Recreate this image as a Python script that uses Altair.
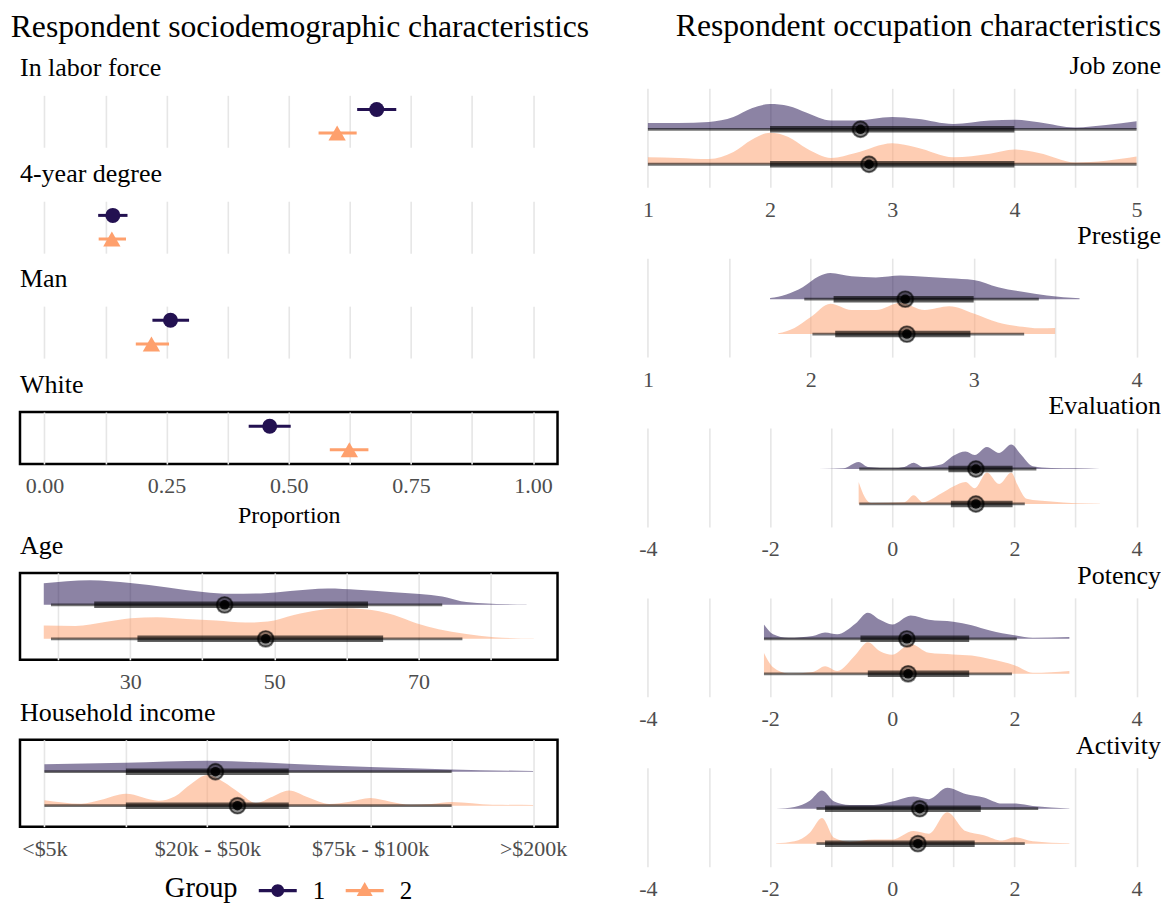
import altair as alt
import pandas as pd

FONT = "Liberation Serif"
PURPLE = "#231151"
ORANGE = "#FEA06D"
GRID_COLOR = "#E6E6E6"
TICK_COLOR = "#4D4D4D"
PANEL_W = 538

groups = ["1", "2"]
group_colors = [PURPLE, ORANGE]

# ---------------- Proportions (left, point + interval) ----------------
prop_labels = ["In labor force", "4-year degree", "Man", "White"]
prop_est_g1 = [0.680, 0.140, 0.258, 0.461]
prop_lo_g1 = [0.640, 0.110, 0.221, 0.418]
prop_hi_g1 = [0.720, 0.170, 0.296, 0.504]
prop_est_g2 = [0.599, 0.138, 0.219, 0.624]
prop_lo_g2 = [0.561, 0.111, 0.187, 0.584]
prop_hi_g2 = [0.639, 0.167, 0.255, 0.663]
prop_ticks = [0.0, 0.125, 0.25, 0.375, 0.5, 0.625, 0.75, 0.875, 1.0]

# ---------------- Age ----------------
age_x1 = [18, 24.4, 30, 35.2, 40.1, 44, 48.1, 52.2, 57.4, 61.5, 66.1, 70.2, 73.3, 75.9, 78.9, 85]
age_d1 = [21.7, 24.8, 22, 17.5, 13, 11.2, 11.5, 14, 16.5, 15.3, 13, 11, 8.3, 3.7, 1.7, 0.3]
age_x2 = [18, 22.4, 26.5, 30.1, 33.7, 37.8, 41.9, 46, 49.1, 52.7, 56.3, 59.4, 62.5, 66.6, 69.7, 72.8, 76.4, 80.5, 86]
age_d2 = [13.5, 13, 17, 20.7, 21.7, 20, 18.3, 16.3, 17.3, 24, 29, 30.7, 29.7, 24, 15.7, 9.7, 5, 1.7, 0.3]
age_stats_g1 = [43.1, 25.0, 63.0, 19.0, 73.3]   # median, lo66, hi66, lo95, hi95
age_stats_g2 = [48.8, 31.0, 65.1, 19.0, 76.1]
age_ticks = [20, 30, 40, 50, 60, 70, 80]

# ---------------- Household income ----------------
income_levels = ["<$5k", "$5k - $20k", "$20k - $50k", "$50k - $75k", "$75k - $100k", "$100k - $200k", ">$200k"]
income_shown = [True, False, True, False, True, False, True]
inc_x1 = [1, 2, 3, 3.65, 4, 5, 6, 7]
inc_d1 = [7.5, 9, 11, 9.5, 8, 4.7, 2.3, 0.7]
inc_x2 = [1, 1.45, 1.7, 2, 2.4, 2.6, 2.8, 3, 3.2, 3.4, 3.6, 3.8, 4, 4.25, 4.5, 4.75, 5, 5.25, 5.5, 5.75, 6, 6.5, 7]
inc_d2 = [5.5, 2, 6, 12, 5, 9.3, 22, 31, 24, 12.7, 2.7, 9, 15.3, 8, 1.7, 4, 7.7, 4, 1, 1.8, 3.7, 1, 0.7]
inc_stats_g1 = [3.10, 2, 4, 1, 6]
inc_stats_g2 = [3.37, 2, 4, 1, 6]

# ---------------- Job zone ----------------
job_x = [1.0, 1.25, 1.5, 1.7, 1.85, 2.0, 2.15, 2.3, 2.5, 2.7, 3.0, 3.2, 3.5, 3.8, 4.0, 4.2, 4.5, 4.75, 5.0]
job_d1 = [6, 6, 7, 11.7, 20, 24, 22.3, 15.7, 8.3, 8.3, 11.7, 10, 5, 8.3, 9, 6.7, 1.7, 4, 7.7]
job_d2 = [6.7, 6, 5, 11.7, 23.3, 30, 26, 15, 6, 10.7, 20, 16, 6.7, 10, 14, 10.7, 1.7, 3.3, 7.3]
job_stats_g1 = [2.74, 2, 4, 1, 5]
job_stats_g2 = [2.81, 2, 4, 1, 5]
job_ticks = [1, 1.5, 2, 2.5, 3, 3.5, 4, 4.5, 5]

# ---------------- Prestige ----------------
pre_x1 = [1.75, 1.85, 1.95, 2.05, 2.12, 2.25, 2.4, 2.55, 2.7, 2.85, 3.0, 3.15, 3.3, 3.45, 3.65]
pre_d1 = [1, 4.3, 11, 21, 24, 21, 20, 21.7, 20.7, 19.3, 17.7, 11, 6.7, 3.3, 0.7]
pre_x2 = [1.8, 1.9, 2.0, 2.12, 2.25, 2.4, 2.55, 2.7, 2.85, 3.0, 3.15, 3.3, 3.4, 3.5]
pre_d2 = [0.7, 5.7, 15.7, 28, 22.3, 22.3, 29, 22.3, 25.7, 19, 10.7, 6.7, 5.3, 5.7]
pre_stats_g1 = [2.58, 2.14, 3.0, 1.96, 3.4]
pre_stats_g2 = [2.59, 2.15, 2.98, 2.01, 3.31]
pre_ticks = [1, 1.5, 2, 2.5, 3, 3.5, 4]

# ---------------- Evaluation ----------------
eva_x1 = [-1.2, -0.8, -0.55, -0.4, 0.0, 0.2, 0.35, 0.5, 0.8, 1.0, 1.2, 1.35, 1.55, 1.75, 1.95, 2.1, 2.3, 2.6, 3.0, 3.4]
eva_d1 = [0, 0.7, 6.7, 2, 0.7, 2, 6, 2, 4.3, 12.7, 16.7, 13.3, 21, 15.3, 23.3, 14.3, 2.7, 1, 0.7, 0]
eva_x2 = [-0.55, -0.45, -0.35, 0.2, 0.35, 0.5, 0.8, 1.0, 1.2, 1.35, 1.55, 1.75, 1.95, 2.05, 2.2, 2.6, 3.0, 3.4]
eva_d2 = [21, 6.7, 1, 1.7, 8.3, 1.7, 10, 16.7, 21, 15, 30, 19, 30, 18.3, 5, 2.3, 0.7, 0.3]
eva_stats_g1 = [1.37, 0.92, 1.97, -0.54, 2.36]
eva_stats_g2 = [1.37, 0.96, 1.97, -0.54, 2.17]

# ---------------- Potency ----------------
pot_x = [-2.1, -1.95, -1.7, -1.3, -1.1, -0.9, -0.6, -0.4, -0.2, 0.0, 0.3, 0.6, 1.0, 1.3, 1.6, 2.0, 2.3, 2.9]
pot_d1 = [13.3, 4.3, 1, 2.7, 6, 4.3, 14.3, 24.3, 17.7, 13.3, 21.7, 17.7, 16, 12.7, 7.7, 3.3, 1, 1.7]
pot_d2 = [19.3, 6, 0.3, 1.7, 7, 2.7, 17.7, 29.3, 21, 17.7, 27.7, 19.5, 18, 17, 13.7, 8, 1, 2.7]
pot_stats_g1 = [0.24, -0.52, 1.26, -2.1, 2.04]
pot_stats_g2 = [0.26, -0.40, 1.26, -2.1, 1.96]

# ---------------- Activity ----------------
act_x = [-1.9, -1.6, -1.35, -1.15, -0.95, -0.7, -0.3, 0.0, 0.35, 0.6, 0.9, 1.2, 1.5, 1.8, 2.0, 2.3, 2.9]
act_d1 = [0, 1.7, 7.7, 17.7, 7, 3.7, 3.7, 7, 12, 9.3, 20.3, 14.3, 11, 5, 5, 2.7, 0.3]
act_d2 = [0.3, 2.3, 10.7, 25, 5.7, 1.7, 4, 4, 12.3, 9.7, 30.7, 12.3, 8.3, 3, 6.3, 2.3, 0.3]
act_stats_g1 = [0.45, -1.10, 1.45, -1.24, 2.39]
act_stats_g2 = [0.42, -1.10, 1.35, -1.24, 2.17]
epa_ticks = [-4, -3, -2, -1, 0, 1, 2, 3, 4]

# ---------------------------------------------------------------
LEG_CIRCLE = "M-1,-0.08L1,-0.08L1,0.08L-1,0.08Z M0.34,0A0.34,0.34,0,1,1,-0.34,0A0.34,0.34,0,1,1,0.34,0Z"
LEG_TRI = "M-1,-0.08L1,-0.08L1,0.08L-1,0.08Z M0,-0.45L0.42,0.28L-0.42,0.28Z"

LBL_INT = "datum.value % 1 == 0 ? format(datum.value, 'd') : ''"
LBL_EPA = "datum.value % 2 == 0 ? (datum.value < 0 ? '-' : '') + format(abs(datum.value), 'd') : ''"
LBL_PROP = "datum.value % 0.25 == 0 ? format(datum.value, '.2f') : ''"
LBL_AGE = "datum.value % 20 == 10 ? format(datum.value, 'd') : ''"
LBL_INC = "[" + ", ".join("'" + (n if s else "") + "'" for n, s in zip(income_levels, income_shown)) + "][datum.value - 1]"


def x_axis(values, label_expr, labels=True, title=None):
    kw = dict(values=values, labelExpr=label_expr, labels=labels, grid=True,
              gridColor=GRID_COLOR, gridWidth=1.6, ticks=False, tickSize=0, domain=False,
              labelFont=FONT, labelFontSize=22, labelColor=TICK_COLOR, labelPadding=12,
              labelFlush=False, labelOverlap=False)
    if title is not None:
        kw.update(title=title, titleFont=FONT, titleFontSize=24, titleFontWeight="normal",
                  titleColor="black", titlePadding=7)
    else:
        kw.update(title=None)
    return alt.Axis(**kw)


def panel_title(text, anchor, offset):
    return alt.TitleParams(text=text, anchor=anchor, frame="group", font=FONT, fontSize=26,
                           fontWeight="normal", color="black", offset=offset)


BORDER = alt.ViewBackground(stroke="black", strokeWidth=2.5)


def prop_panel(i, show_axis, legend=False):
    df = pd.DataFrame({
        "grp": groups,
        "pos": [2, 1],
        "est": [prop_est_g1[i], prop_est_g2[i]],
        "lo": [prop_lo_g1[i], prop_lo_g2[i]],
        "hi": [prop_hi_g1[i], prop_hi_g2[i]],
    })
    xs = alt.Scale(domain=[-0.05, 1.05], nice=False, zero=False)
    ys = alt.Scale(domain=[0.4, 2.6], nice=False, zero=False)
    ax = x_axis(prop_ticks, LBL_PROP, labels=show_axis, title="Proportion" if show_axis else None)
    yy = alt.Y("pos:Q", scale=ys, axis=None)
    layers = []
    for g, c, shp, sz in zip(groups, group_colors, ["circle", "triangle-up"], [225, 300]):
        sub = alt.Chart(df).transform_filter(f"datum.grp == '{g}'")
        layers.append(sub.mark_rule(strokeWidth=3, color=c).encode(
            x=alt.X("lo:Q", scale=xs, axis=ax), x2="hi:Q", y=yy))
        layers.append(sub.mark_point(filled=True, shape=shp, size=sz, opacity=1, color=c).encode(
            x=alt.X("est:Q", scale=xs, axis=ax), y=yy))
    if legend:
        leg = alt.Legend(title="Group", orient="none", legendX=145, legendY=783,
                         direction="horizontal", titleOrient="left", titleFont=FONT,
                         titleFontSize=28.5, titleFontWeight="normal", titleColor="black",
                         titleAnchor="middle", titleBaseline="middle", titlePadding=20,
                         labelFont=FONT, labelFontSize=25, labelColor="black",
                         symbolSize=1444, symbolOpacity=1, labelOffset=15, columnPadding=17)
        # legend-only layer: no rows are drawn, the legend comes from the scale domain
        inv = alt.Chart(df).transform_filter("datum.grp == 'none'").mark_point(
            filled=True, opacity=1).encode(
            x=alt.X("est:Q", scale=xs, axis=ax), y=yy,
            color=alt.Color("grp:N", scale=alt.Scale(domain=groups, range=group_colors), legend=leg),
            shape=alt.Shape("grp:N", scale=alt.Scale(domain=groups, range=[LEG_CIRCLE, LEG_TRI]), legend=leg))
        layers.append(inv)
    ch = alt.layer(*layers).properties(
        width=PANEL_W, height=52, title=panel_title(prop_labels[i], "start", 14))
    if show_axis:
        ch = ch.properties(view=BORDER)
    return ch


def halfeye_panel(title, xs1, ds1, xs2, ds2, st1, st2, domain, ticks, lbl, height, ydom,
                  anchor, toff, bordered):
    rows = []
    for g, xv, dv, b in (("1", xs1, ds1, 2), ("2", xs2, ds2, 1)):
        for x, d in zip(xv, dv):
            rows.append({"grp": g, "x": x, "dens": d, "base": b})
    df = pd.DataFrame(rows)
    peak = df["dens"].max()
    df["top"] = df["base"] + 0.9 * df["dens"] / peak
    st = pd.DataFrame([
        {"grp": g, "base": b, "med": s[0], "lo66": s[1], "hi66": s[2], "lo95": s[3], "hi95": s[4]}
        for g, b, s in (("1", 2, st1), ("2", 1, st2))
    ])
    xs = alt.Scale(domain=domain, nice=False, zero=False)
    ys = alt.Scale(domain=ydom, nice=False, zero=False)
    ax = x_axis(ticks, lbl)
    layers = []
    for g, c in zip(groups, group_colors):
        layers.append(alt.Chart(df).transform_filter(f"datum.grp == '{g}'").mark_area(
            opacity=0.52, interpolate="monotone", color=c).encode(
            x=alt.X("x:Q", scale=xs, axis=ax),
            y=alt.Y("top:Q", scale=ys, axis=None),
            y2="base:Q"))
    b = alt.Chart(st)
    yb = alt.Y("base:Q", scale=ys, axis=None)
    layers += [
        b.mark_rule(color="black", opacity=0.55, strokeWidth=2.8).encode(
            x=alt.X("lo95:Q", scale=xs, axis=ax), x2="hi95:Q", y=yb),
        b.mark_rule(color="black", opacity=0.62, strokeWidth=6.5).encode(
            x=alt.X("lo66:Q", scale=xs, axis=ax), x2="hi66:Q", y=yb),
        b.mark_point(filled=True, shape="circle", color="black", opacity=0.45, size=320).encode(
            x=alt.X("med:Q", scale=xs, axis=ax), y=yb),
        b.mark_point(filled=False, shape="circle", color="black", opacity=0.6, strokeWidth=1.4,
                     size=225).encode(x=alt.X("med:Q", scale=xs, axis=ax), y=yb),
        b.mark_point(filled=True, shape="circle", color="black", opacity=0.9, size=90).encode(
            x=alt.X("med:Q", scale=xs, axis=ax), y=yb),
    ]
    ch = alt.layer(*layers).properties(
        width=PANEL_W, height=height, title=panel_title(title, anchor, toff))
    if bordered:
        ch = ch.properties(view=BORDER)
    return ch


def spacer(h):
    return alt.Chart(pd.DataFrame({"a": [0]})).mark_point(opacity=0).encode(
        x=alt.X("a:Q", axis=None), y=alt.Y("a:Q", axis=None)).properties(width=PANEL_W, height=h)


LEFT_Y = [0.382, 2.941]
RIGHT_Y = [0.343, 3.171]

age_panel = halfeye_panel("Age", age_x1, age_d1, age_x2, age_d2, age_stats_g1, age_stats_g2,
                          [14.7, 89.3], age_ticks, LBL_AGE, 87, LEFT_Y, "start", 14, True)
inc_panel = halfeye_panel("Household income", inc_x1, inc_d1, inc_x2, inc_d2, inc_stats_g1, inc_stats_g2,
                          [0.7, 7.3], list(range(1, 8)), LBL_INC, 87, LEFT_Y, "start", 14, True)

left = alt.vconcat(
    spacer(7),
    prop_panel(0, False), spacer(54),
    prop_panel(1, False), spacer(53),
    prop_panel(2, False), spacer(54),
    prop_panel(3, True, legend=True), spacer(109),
    age_panel, spacer(80),
    inc_panel,
    spacing=0, bounds="flush",
    title=alt.TitleParams(text="Respondent sociodemographic characteristics", anchor="start",
                          frame="bounds", font=FONT, fontSize=31.7, fontWeight="normal",
                          color="black", dx=-8, offset=12),
)

right = alt.vconcat(
    halfeye_panel("Job zone", job_x, job_d1, job_x, job_d2, job_stats_g1, job_stats_g2,
                  [0.8, 5.2], job_ticks, LBL_INT, 99, RIGHT_Y, "end", 9, False),
    halfeye_panel("Prestige", pre_x1, pre_d1, pre_x2, pre_d2, pre_stats_g1, pre_stats_g2,
                  [0.85, 4.15], pre_ticks, LBL_INT, 99, RIGHT_Y, "end", 9, False),
    halfeye_panel("Evaluation", eva_x1, eva_d1, eva_x2, eva_d2, eva_stats_g1, eva_stats_g2,
                  [-4.4, 4.4], epa_ticks, LBL_EPA, 99, RIGHT_Y, "end", 9, False),
    halfeye_panel("Potency", pot_x, pot_d1, pot_x, pot_d2, pot_stats_g1, pot_stats_g2,
                  [-4.4, 4.4], epa_ticks, LBL_EPA, 99, RIGHT_Y, "end", 9, False),
    halfeye_panel("Activity", act_x, act_d1, act_x, act_d2, act_stats_g1, act_stats_g2,
                  [-4.4, 4.4], epa_ticks, LBL_EPA, 99, RIGHT_Y, "end", 9, False),
    spacing=71, bounds="flush",
    title=alt.TitleParams(text="Respondent occupation characteristics", anchor="end",
                          frame="bounds", font=FONT, fontSize=31.7, fontWeight="normal",
                          color="black", offset=10.5),
)

chart = alt.hconcat(left, right, spacing=34).properties(
    padding={"left": 2, "top": 2, "right": 0, "bottom": 0}
).configure(font=FONT).configure_view(strokeWidth=0)

chart.save("out.html", embed_options={"renderer": "svg", "actions": False})
